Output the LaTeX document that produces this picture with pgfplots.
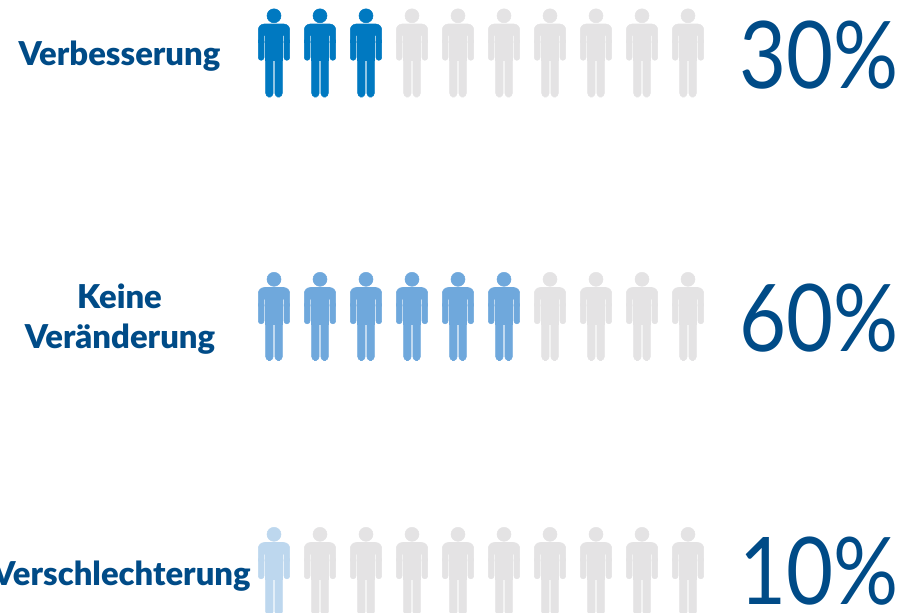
\documentclass[border=0pt]{standalone}
\usepackage{fontspec}
\setmainfont{Lato}[BoldFont={Lato Black}]
\usepackage{pgfplots}
\pgfplotsset{compat=1.18}
\definecolor{txtblue}{HTML}{004B87}
\definecolor{pdark}{HTML}{0079C1}
\definecolor{pmid}{HTML}{6FA8DC}
\definecolor{plight}{HTML}{BDD7EE}
\definecolor{pgrey}{HTML}{E4E3E4}
% one person, sizes in reference pixels around the middle of the figure
\pgfdeclareplotmark{person}{%
  \begin{scope}[x=0.75pt,y=0.75pt]
    \fill (0,36.7) circle[radius=7];
    \fill (-15.7,10) -- (-15.7,22.5) arc[start angle=180,end angle=90,radius=6]
      -- (9.7,28.5) arc[start angle=90,end angle=0,radius=6]
      -- (15.7,10) -- (10,10) -- (10,16.8) -- (-10,16.8) -- (-10,10) -- cycle;
    \fill (-8.3,-8) rectangle (8.3,20);
    \fill[rounded corners=2.1pt] (-15.7,-7.8) rectangle (-10,14);
    \fill[rounded corners=2.1pt] (10,-7.8) rectangle (15.7,14);
    \fill[rounded corners=2.8pt] (-8.3,-44.5) rectangle (-0.9,-2);
    \fill[rounded corners=2.8pt] (0.9,-44.5) rectangle (8.3,-2);
  \end{scope}%
}
\begin{document}
\begin{tikzpicture}
\path[use as bounding box,clip] (0,0) rectangle (687pt,459pt);
\begin{axis}[
    at={(0,0)},anchor=south west,
    scale only axis,
    width=687pt,height=459pt,
    hide axis,
    xmin=-4.9565,xmax=14.9565,
    ymin=0,ymax=612,
    y dir=reverse,
    only marks,
    mark=person,
]
% grey figures first
\addplot[pgrey,only marks,mark=person] coordinates {
    (4,52.5) (5,52.5) (6,52.5) (7,52.5) (8,52.5) (9,52.5) (10,52.5)
    (7,316) (8,316) (9,316) (10,316)
    (2,571) (3,571) (4,571) (5,571) (6,571) (7,571) (8,571) (9,571) (10,571)
};
\addplot[pdark,only marks,mark=person] coordinates {(1,52.5) (2,52.5) (3,52.5)};
\addplot[pmid,only marks,mark=person] coordinates {(1,316) (2,316) (3,316) (4,316) (5,316) (6,316)};
\addplot[plight,only marks,mark=person] coordinates {(1,571)};

\tikzset{lab/.style={text=txtblue,anchor=base,font=\bfseries\fontsize{24.6pt}{24.6pt}\selectfont,inner sep=0pt},
         pct/.style={text=txtblue,anchor=base east,font=\fontsize{70pt}{70pt}\selectfont,inner sep=0pt,xscale=0.87}}
\node[lab] at (axis cs:-2.359,65) {Verbesserung};
\node[lab] at (axis cs:-2.36,308) {Keine};
\node[lab] at (axis cs:-2.348,348) {Veränderung};
\node[lab] at (axis cs:-2.315,585) {Verschlechterung};
\node[pct] at (axis cs:14.585,88) {30\%};
\node[pct] at (axis cs:14.585,351) {60\%};
\node[pct] at (axis cs:14.585,604) {10\%};
\end{axis}
\end{tikzpicture}
\end{document}
